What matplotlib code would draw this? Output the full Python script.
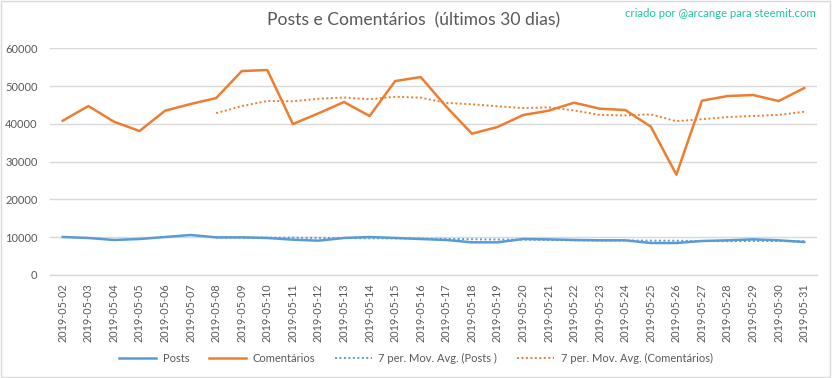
import numpy as np
import pandas as pd
import matplotlib
matplotlib.use("Agg")
import matplotlib.pyplot as plt
from matplotlib.patches import Rectangle

# ── Data ────────────────────────────────────────────────────────────────
DAYS = [f"2019-05-{d:02d}" for d in range(2, 32)]

POSTS = [10060, 9800, 9270, 9530, 10060, 10590, 9970, 9970, 9800, 9350,
         9090, 9800, 10060, 9800, 9530, 9270, 8650, 8650, 9530, 9440,
         9270, 9180, 9180, 8470, 8470, 9000, 9180, 9440, 9180, 8740]

COMENTARIOS = [40850, 44740, 40590, 38120, 43500, 45270, 46850, 54000, 54270, 39970,
               42800, 45800, 42090, 51350, 52410, 44560, 37410, 39180, 42350, 43500,
               45620, 44030, 43680, 39270, 26560, 46150, 47380, 47650, 46060, 49500]

MA_WINDOW = 7

# ── Style ───────────────────────────────────────────────────────────────
BLUE = "#5B9BD5"
ORANGE = "#ED7D31"
GRID = "#D9D9D9"
TEXT = "#595959"
TEAL = "#22C2A2"
FONT = ["Lato", "DejaVu Sans"]

plt.rcParams["font.family"] = FONT


def main():
    fig = plt.figure(figsize=(8.32, 3.78), dpi=100)
    ax = fig.add_axes([0.0601, 0.2725, 0.9219, 0.5995])

    x = np.arange(len(DAYS))
    posts_ma = pd.Series(POSTS).rolling(MA_WINDOW).mean()
    com_ma = pd.Series(COMENTARIOS).rolling(MA_WINDOW).mean()

    ax.plot(x, POSTS, color=BLUE, linewidth=1.8, label="Posts", zorder=4)
    ax.plot(x, COMENTARIOS, color=ORANGE, linewidth=1.8, label="Comentários", zorder=4)
    ax.plot(x, posts_ma, color=BLUE, linewidth=1.4, linestyle=(0, (1, 1.3)),
            label="7 per. Mov. Avg. (Posts )", zorder=3)
    ax.plot(x, com_ma, color=ORANGE, linewidth=1.4, linestyle=(0, (1, 1.3)),
            label="7 per. Mov. Avg. (Comentários)", zorder=3)

    ax.set_xlim(-0.5, len(DAYS) - 0.5)
    ax.set_ylim(0, 60000)
    ax.set_yticks(np.arange(0, 60001, 10000))
    ax.set_xticks(x)
    ax.set_xticklabels(DAYS, rotation=90, fontsize=7.8, color=TEXT)
    ax.tick_params(axis="y", labelsize=8, labelcolor=TEXT, length=0, pad=9)
    ax.tick_params(axis="x", length=0, pad=6)

    ax.grid(axis="y", color=GRID, linewidth=1)
    ax.set_axisbelow(True)
    for side in ("top", "right", "left"):
        ax.spines[side].set_visible(False)
    ax.spines["bottom"].set_color(GRID)
    ax.spines["bottom"].set_linewidth(1)

    fig.text(0.497, 0.947, "Posts e Comentários  (últimos 30 dias)",
             ha="center", va="center", fontsize=12.6, color=TEXT)
    fig.text(0.98, 0.965, "criado por @arcange para steemit.com",
             ha="right", va="center", fontsize=8.2, color=TEAL)

    fig.legend(loc="center", bbox_to_anchor=(0.5, 0.052), ncol=4, frameon=False,
               fontsize=8, labelcolor=TEXT, handlelength=3.3, columnspacing=1.8,
               handletextpad=0.6)

    fig.patches.append(Rectangle((0.001, 0.002), 0.997, 0.995, transform=fig.transFigure,
                                 fill=False, edgecolor=GRID, linewidth=1))

    fig.savefig("out.png", dpi=100, facecolor="white")
    plt.close(fig)


if __name__ == "__main__":
    main()
